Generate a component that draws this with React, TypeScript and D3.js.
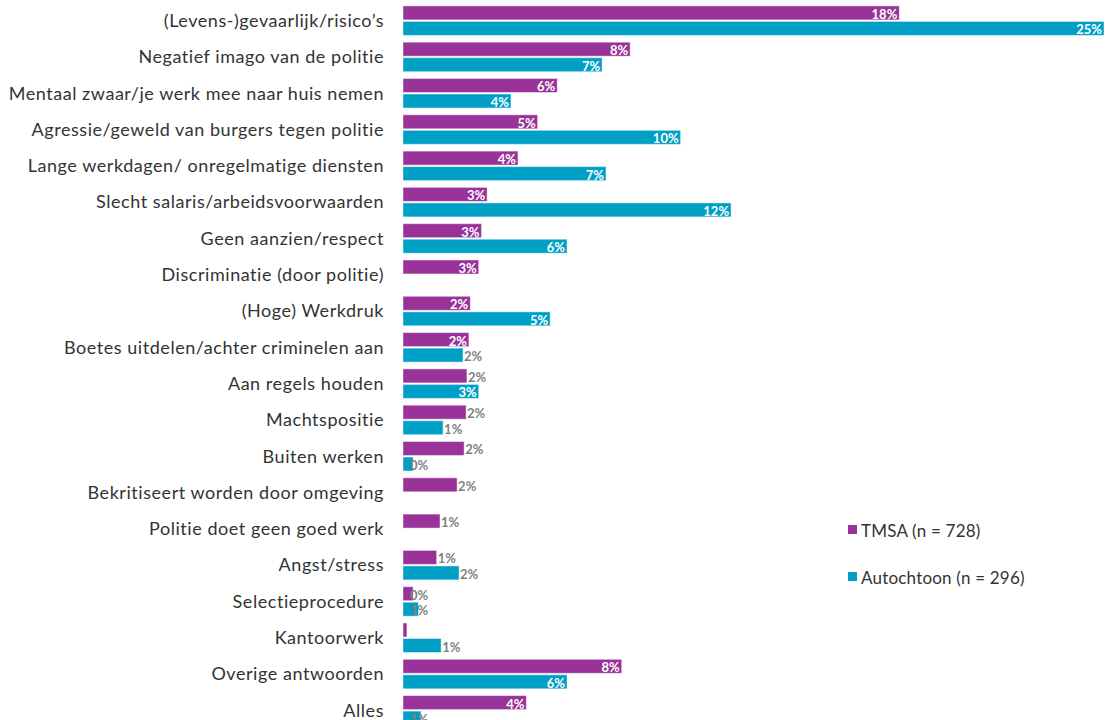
import * as d3 from 'd3';
import React, { useEffect, useRef } from 'react';

const categories = [
  '(Levens-)gevaarlijk/risico’s',
  'Negatief imago van de politie',
  'Mentaal zwaar/je werk mee naar huis nemen',
  'Agressie/geweld van burgers tegen politie',
  'Lange werkdagen/ onregelmatige diensten',
  'Slecht salaris/arbeidsvoorwaarden',
  'Geen aanzien/respect',
  'Discriminatie (door politie)',
  '(Hoge) Werkdruk',
  'Boetes uitdelen/achter criminelen aan',
  'Aan regels houden',
  'Machtspositie',
  'Buiten werken',
  'Bekritiseert worden door omgeving',
  'Politie doet geen goed werk',
  'Angst/stress',
  'Selectieprocedure',
  'Kantoorwerk',
  'Overige antwoorden',
  'Alles',
];

// null = no bar / no label
const tmsaValues: (number | null)[] = [
  17.7, 8.1, 5.5, 4.8, 4.1, 3.0, 2.8, 2.7, 2.4, 2.35, 2.28, 2.25, 2.18, 1.93, 1.32, 1.2, 0.36, 0.14, 7.8, 4.4,
];
const autochtoonValues: (number | null)[] = [
  25.0, 7.1, 3.85, 9.9, 7.24, 11.7, 5.85, null, 5.25, 2.14, 2.7, 1.43, 0.36, null, null, 2.0, 0.55, 1.36, 5.85, 0.64,
];
const tmsaLabels = ['18%', '8%', '6%', '5%', '4%', '3%', '3%', '3%', '2%', '2%', '2%', '2%', '2%', '2%', '1%', '1%', '0%', '', '8%', '4%'];
const autochtoonLabels = ['25%', '7%', '4%', '10%', '7%', '12%', '6%', '', '5%', '2%', '3%', '1%', '0%', '', '', '2%', '1%', '1%', '6%', '1%'];

const seriesNames = ['TMSA (n = 728)', 'Autochtoon (n = 296)'];
const seriesColors = ['#993399', '#00A0C6'];

const W = 1105;
const H = 720;

export default function App() {
  const svgRef = useRef<SVGSVGElement | null>(null);

  useEffect(() => {
    if (!svgRef.current) return;
    const svg = d3.select(svgRef.current);
    svg.selectAll('*').remove();

    const x = d3.scaleLinear().domain([0, 25]).range([403, 1104]);
    const y = d3
      .scaleBand<string>()
      .domain(categories)
      .range([2.4, 2.4 + categories.length * 36.3]);
    const sub = d3
      .scaleBand<number>()
      .domain([0, 1])
      .range([3.5, 33])
      .paddingInner(0.1);

    // category labels
    svg
      .append('g')
      .selectAll('text')
      .data(categories)
      .enter()
      .append('text')
      .attr('x', 384)
      .attr('y', (d) => y(d)! + 17.5)
      .attr('text-anchor', 'end')
      .attr('dominant-baseline', 'central')
      .style('font-family', 'Lato, sans-serif')
      .style('font-size', '18px')
      .style('letter-spacing', '0.55px')
      .style('fill', '#333333')
      .text((d) => d);

    const series = [
      { values: tmsaValues, labels: tmsaLabels },
      { values: autochtoonValues, labels: autochtoonLabels },
    ];

    series.forEach((s, si) => {
      const g = svg.append('g');
      const rows = categories
        .map((c, i) => ({ c, v: s.values[i], label: s.labels[i] }))
        .filter((d) => d.v !== null) as { c: string; v: number; label: string }[];

      g.selectAll('rect')
        .data(rows)
        .enter()
        .append('rect')
        .attr('x', x(0))
        .attr('y', (d) => y(d.c)! + sub(si)!)
        .attr('width', (d) => x(d.v) - x(0))
        .attr('height', sub.bandwidth())
        .attr('fill', seriesColors[si])
        .attr('stroke', 'rgba(255,255,255,0.45)')
        .attr('stroke-width', 1);

      g.selectAll('text')
        .data(rows.filter((d) => d.label !== ''))
        .enter()
        .append('text')
        .each(function (d) {
          const w = x(d.v) - x(0);
          const t = d3.select(this);
          if (w >= 65) {
            t.attr('x', x(d.v) - 2).attr('text-anchor', 'end').style('fill', '#ffffff');
          } else if (w < 20) {
            t.attr('x', x(0) + 7).attr('text-anchor', 'start').style('fill', '#7f7f7f');
          } else {
            t.attr('x', x(d.v) + 1).attr('text-anchor', 'start').style('fill', '#7f7f7f');
          }
        })
        .attr('y', (d) => y(d.c)! + sub(si)! + sub.bandwidth() / 2 + 1)
        .attr('dominant-baseline', 'central')
        .style('font-family', 'Lato, sans-serif')
        .style('font-weight', 'bold')
        .style('font-size', '13px')
        .text((d) => d.label);
    });

    // legend
    const legend = svg.append('g');
    seriesNames.forEach((name, i) => {
      const ly = 530 + i * 47;
      legend
        .append('rect')
        .attr('x', 848)
        .attr('y', ly - 5)
        .attr('width', 9)
        .attr('height', 9)
        .attr('fill', seriesColors[i]);
      legend
        .append('text')
        .attr('x', 861)
        .attr('y', ly)
        .attr('dominant-baseline', 'central')
        .style('font-family', 'Lato, sans-serif')
        .style('font-size', '17px')
        .style('letter-spacing', '0.2px')
        .style('fill', '#333333')
        .text(name);
    });
  }, []);

  return (
    <div style={{ position: 'absolute', left: 0, top: 0, width: W, height: H, background: '#ffffff' }}>
      <svg ref={svgRef} width={W} height={H} role="img" aria-label="Bar chart"></svg>
    </div>
  );
}
